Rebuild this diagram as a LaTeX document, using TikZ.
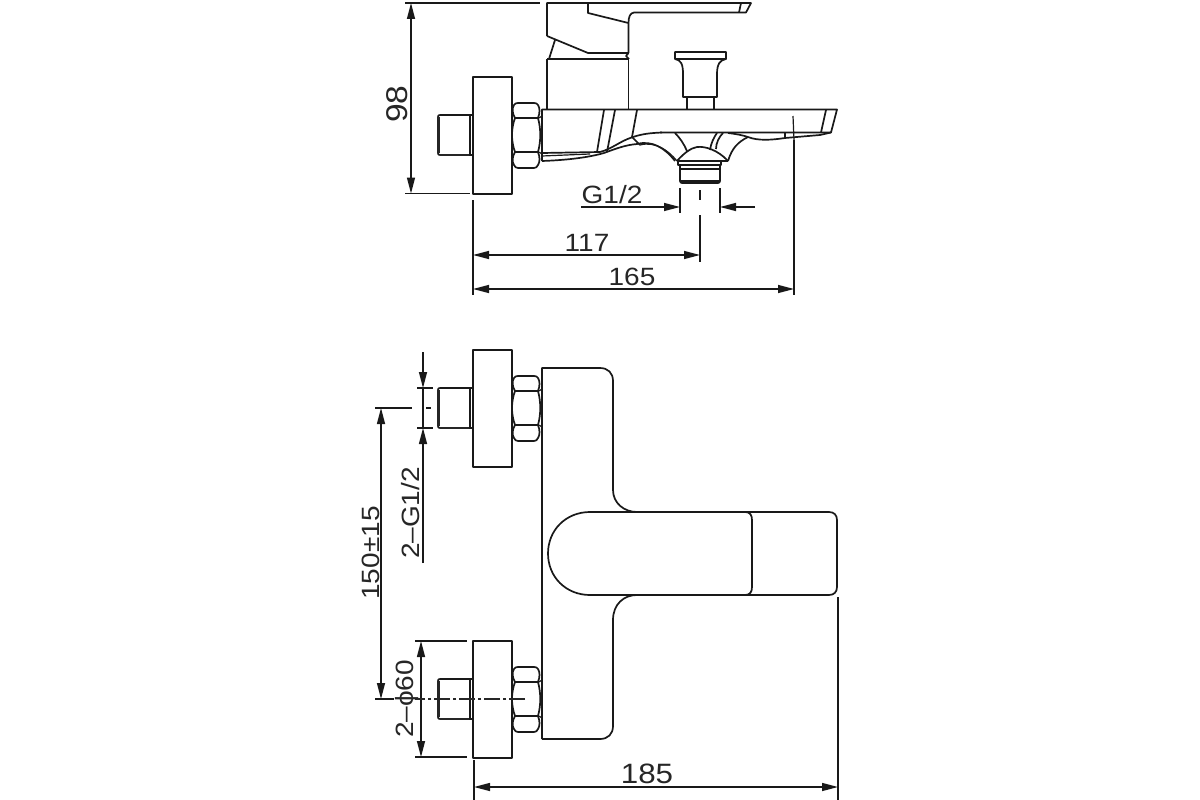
\documentclass[tikz,border=0pt]{standalone}
\usepackage{fontspec}
\setmainfont[FakeStretch=1.12]{Liberation Sans}
\usetikzlibrary{arrows.meta}
\tikzset{
  part/.style={line width=1.7pt,line join=round,black!90},
  thin part/.style={line width=1.2pt,black!90},
  dimline/.style={line width=1.4pt,black!90},
  dimarrow/.style={dimline,-{Triangle[length=16pt,width=8pt]}},
  dimboth/.style={dimline,{Triangle[length=16pt,width=8pt]}-{Triangle[length=16pt,width=8pt]}},
  centre/.style={line width=1.1pt,black!85,dash pattern=on 16pt off 3pt on 3pt off 3pt},
  lbl/.style={inner sep=0pt,font=\fontsize{25}{25}\selectfont,black!85},
}
\newcommand{\fitting}[1]{%
  \begin{scope}[yshift=#1]
    \draw[part] (473,0) rectangle (512,117);
    \draw[part] (470,38) -- (440,38) .. controls (438.5,38) and (438,38.5) .. (438,40) -- (438,76) .. controls (438,77.5) and (438.5,78) .. (440,78);
    \draw[line width=2.4pt,black!85] (470,78) -- (440,78);
    \draw[line width=2.2pt,black!85] (438.5,40) -- (438.5,76);
    \draw[thin part] (470,38) rectangle (473,78);
    % hexagon nut: three faces
    \draw[part] (515,41) .. controls (512,36) and (512,31) .. (514,28) .. controls (515,26.5) and (516,26) .. (518,26)
       -- (534,26) .. controls (536,26) and (537,26.5) .. (538,28) .. controls (540,31) and (540,36) .. (538,41) -- cycle;
    \draw[part] (515,75) .. controls (512,80) and (512,85) .. (514,88) .. controls (515,90) and (516,91) .. (518,91)
       -- (534,91) .. controls (536,91) and (537,90) .. (538,88) .. controls (540,85) and (540,80) .. (538,75) -- cycle;
    \draw[part] (515,41) .. controls (511,52) and (511,64) .. (515,75);
    \draw[part] (538,41) .. controls (541,52) and (541,64) .. (538,75);
    \draw[thin part] (539,41) -- (542,39) (539,75) -- (542,77);
  \end{scope}}
\begin{document}
\begin{tikzpicture}[x=1pt,y=-1pt]
\useasboundingbox (0,0) rectangle (1200,800);
\fill[white] (0,0) rectangle (1200,800);

% ---------- side view ----------
\fitting{-77pt}
% lever and handle
\draw[part] (547,36) -- (547,3) -- (751,3) -- (746,12.5) -- (634,12.5)
  .. controls (630,13) and (628.5,17) .. (628.5,23) -- (628.5,53);
\draw[part] (741,3) -- (739,12.5);
\draw[part] (588,3) -- (588,13) -- (628.5,23);
\draw[part] (547,36) -- (588,53) -- (628.5,53);
\draw[part] (555,40) -- (549,59);
\draw[part] (547,59) -- (629,59);
\draw[part] (628.5,53) -- (626,56) -- (629,59);
\draw[part] (547,59) -- (547,109);
\draw[part] (628.5,59) -- (628.5,109);
% spout
\draw[part] (542,161) -- (542,109.5) -- (837,109.5) -- (831,132.5) -- (660,132.5);
\draw[part] (826,110) -- (821,132.5);
\draw[part] (604,110) -- (597,152);
\draw[part] (615,110) -- (607,152);
\draw[part] (637,110) -- (632,137);
\draw[part] (542,153) -- (600,152)
  .. controls (612,149) and (620,141) .. (633,137) .. controls (642,134) and (650,133) .. (662,132.5);
\draw[thin part] (542,156) -- (590,154);
\draw[part] (542,161) .. controls (570,160) and (590,157) .. (604,153) .. controls (615,149) and (625,145) .. (637,144)
  .. controls (652,140) and (665,148) .. (675,161);
\draw[part] (632,137) -- (640,145);
\draw[thin part] (640,145) .. controls (655,141) and (668,150) .. (677,161);
% ribs and dome
\draw[part] (675,133) .. controls (680,138) and (684,144) .. (687,151);
\draw[part] (710,150) .. controls (711,143) and (714,137) .. (717,133);
\draw[part] (716,149) .. controls (716,143) and (719,137) .. (723,133);
\draw[part] (677,161) .. controls (684,153) and (691,148) .. (697,147) .. controls (705,146) and (718,150) .. (728,161);
\draw[part] (728,161) .. controls (732,148) and (738,142) .. (748,137);
\draw[part] (728,133) .. controls (736,134) and (742,135) .. (748,137) .. controls (758,141) and (772,140) .. (785,138)
  -- (820,135) -- (831,132.5);
\draw[part] (785,132.5) -- (785,138);
% outlet
\draw[part] (677,161) -- (728,161);
\draw[part] (678,161) -- (678,165) -- (721,165) -- (721,161);
\draw[part,rounded corners=2pt] (680,165) -- (680,183) -- (720,183) -- (720,165);
\draw[part] (680,169) -- (720,169);
\draw[part] (680,181) -- (720,181);
% knob
\draw[part] (683,97) -- (683,74) .. controls (683,64) and (681,60) .. (675,59) -- (675,52) -- (726,52) -- (726,59)
  .. controls (720,60) and (717,64) .. (717,74) -- (717,97) -- cycle;
\draw[part] (675,59) -- (726,59);
\draw[part] (687,97) -- (687,109);
\draw[part] (714,97) -- (714,109);

% side view dimensions
\draw[dimline] (405,3) -- (540,3);
\draw[dimline] (405,193.5) -- (470,193.5);
\draw[dimboth] (411,3) -- (411,193.5);
\node[lbl,rotate=90,font=\fontsize{30}{30}\selectfont] (t98) at (397,104) {98};
\draw[dimline] (680,188) -- (680,213);
\draw[dimline] (720,188) -- (720,213);
\draw[dimline] (700,190) -- (700,200);
\draw[dimline] (700,215) -- (700,262);
\draw[dimarrow] (581,207) -- (680,207);
\draw[dimarrow] (755,207) -- (720,207);
\node[lbl] (tg) at (612,195) {G1/2};
\draw[dimline] (473,200) -- (473,295);
\draw[dimline] (794,140) -- (794,295);
\draw[thin part] (793,116) -- (794,140);
\draw[dimboth] (473,255) -- (700,255);
\draw[dimboth] (473,289) -- (794,289);
\node[lbl] (t117) at (587,243) {117};
\node[lbl] (t165) at (632,277) {165};

% ---------- front view ----------
\fitting{-350pt}
\fitting{-641pt}
\draw[part] (542,739) -- (542,368) -- (600,368)
  .. controls (608,368) and (613,373) .. (613,381) -- (613,490)
  .. controls (613,503) and (624,512) .. (637,512);
\draw[part] (590,512) -- (829,512) .. controls (834,512) and (837,515) .. (837,520) -- (837,587)
  .. controls (837,592) and (834,595) .. (829,595) -- (590,595)
  .. controls (566,595) and (548,577) .. (548,553.5) .. controls (548,530) and (566,512) .. (590,512);
\draw[part] (745,512) .. controls (750,512) and (752,515) .. (752,520) -- (752,587) .. controls (752,592) and (750,595) .. (745,595);
\draw[part] (637,595) .. controls (624,595) and (613,604) .. (613,620) -- (613,726)
  .. controls (613,734) and (608,739) .. (600,739) -- (542,739);

% front view dimensions
\draw[dimarrow] (423,352) -- (423,388);
\draw[dimarrow] (423,563) -- (423,428);
\draw[dimline] (423,388) -- (423,428);
\draw[dimline] (417,388) -- (433,388);
\draw[dimline] (417,428) -- (433,428);
\draw[dimline] (426,408) -- (431,408);
\node[lbl,rotate=90] (tg2) at (411,513) {2–G1/2};
\draw[dimline] (375,408) -- (412,408);
\draw[dimline] (375,699) -- (394,699);
\draw[dimboth] (381,408) -- (381,699);
\node[lbl,rotate=90] (t150) at (371,553) {150±15};
\draw[dimline] (415,641) -- (467,641);
\draw[dimline] (415,757) -- (467,757);
\draw[dimboth] (421,641) -- (421,757);
\node[lbl,rotate=90] (tphi) at (407,699) {2–ϕ60};
\draw[centre] (525,699) -- (415,699);
\draw[dimline] (474,760) -- (474,800);
\draw[dimline] (838,597) -- (838,800);
\draw[dimboth] (474,787) -- (838,787);
\node[lbl,font=\fontsize{28}{28}\selectfont] (t185) at (647,774) {185};
\end{tikzpicture}
\end{document}
